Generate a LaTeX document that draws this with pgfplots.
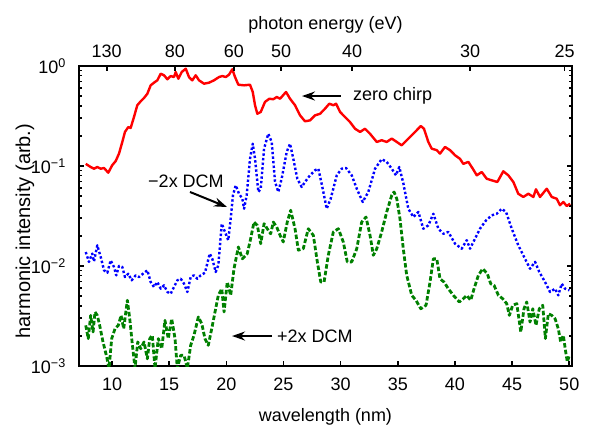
\documentclass[border=0pt]{standalone}
\usepackage{fontspec}
\setmainfont{Liberation Sans}
\usepackage{pgfplots}
\pgfplotsset{compat=1.18}
\usetikzlibrary{arrows.meta}
\definecolor{cred}{RGB}{255,0,0}
\definecolor{cblue}{RGB}{0,0,255}
\definecolor{cgreen}{RGB}{0,128,0}

\pgfplotsset{
  common/.style={
    scale only axis, width=493pt, height=300pt,
    xmin=7.11, xmax=50.24,
    tick align=inside,
    major tick length=5pt, minor tick length=3.5pt,
    every tick/.style={line width=1.6pt, black},
    /pgf/number format/assume math mode=true,
    tick label style={font=\fontsize{18}{21}\selectfont},
    label style={font=\fontsize{18}{21}\selectfont},
  },
}

\begin{document}
\fontsize{18}{21}\selectfont
\begin{tikzpicture}
\begin{axis}[common, name=main,
  ymode=log, ymin=1e-3, ymax=1,
  axis line style={line width=2.6pt},
  xtick={10,15,...,50}, xtick pos=left, xticklabel pos=left,
  ytick={1e-3,1e-2,1e-1,1},
  yticklabels={10\textsuperscript{−3},10\textsuperscript{−2},10\textsuperscript{−1},10\textsuperscript{0}},
  ytick pos=both, yticklabel pos=left,
  xticklabel style={yshift=-6pt},
  yticklabel style={xshift=-7pt},
  xlabel={wavelength (nm)},
  every axis x label/.style={at={(axis description cs:0.5,0)}, anchor=north, yshift=-36pt},
  ylabel={harmonic intensity (arb.)},
  every axis y label/.style={at={(axis description cs:0,0.45)}, xshift=-54pt, rotate=90, anchor=center, font=\fontsize{20}{24}\selectfont},
]
% zero chirp
\addplot[cred, line width=2.4pt, line join=round] table {
7.70 0.105
8.13 0.0977
8.42 0.0940
8.71 0.0977
9.01 0.0940
9.30 0.0955
9.67 0.0857
10.02 0.102
10.32 0.112
10.61 0.133
10.90 0.174
11.13 0.219
11.42 0.245
11.63 0.240
11.92 0.309
12.21 0.405
12.51 0.444
12.80 0.479
13.09 0.528
13.38 0.641
13.67 0.681
13.96 0.719
14.26 0.837
14.55 0.807
14.84 0.736
15.13 0.794
15.42 0.776
15.57 0.871
15.80 0.746
16.10 0.871
16.45 0.940
16.73 0.776
17.02 0.719
17.32 0.807
17.61 0.719
18.05 0.665
18.48 0.681
18.92 0.719
19.36 0.776
19.65 0.794
19.95 0.776
20.23 0.818
20.52 0.927
20.76 0.776
21.05 0.650
21.55 0.641
22.07 0.650
22.31 0.550
22.51 0.405
22.71 0.333
23.01 0.347
23.38 0.437
23.76 0.471
24.11 0.465
24.41 0.490
24.70 0.471
25.22 0.550
25.57 0.471
26.01 0.405
26.45 0.321
26.88 0.280
27.32 0.286
27.76 0.321
28.20 0.333
28.63 0.374
29.01 0.420
29.36 0.405
29.60 0.420
29.95 0.347
30.38 0.309
30.82 0.275
31.26 0.236
31.70 0.219
32.13 0.236
32.57 0.210
33.16 0.174
33.59 0.181
34.03 0.174
34.47 0.188
34.91 0.174
35.34 0.161
35.63 0.174
36.07 0.195
36.51 0.219
37.01 0.251
37.29 0.236
37.67 0.174
37.97 0.149
38.41 0.144
38.69 0.133
39.13 0.155
39.57 0.144
40.01 0.128
40.44 0.118
40.73 0.105
41.17 0.110
41.56 0.0940
41.91 0.0807
42.34 0.0871
42.78 0.0746
43.22 0.0719
43.71 0.0692
44.23 0.0885
44.67 0.0807
45.11 0.0692
45.54 0.0528
45.98 0.0490
46.42 0.0528
46.86 0.0490
47.09 0.0585
47.44 0.0490
48.03 0.0593
48.47 0.0490
48.90 0.0471
49.19 0.0405
49.48 0.0437
49.78 0.0398
50.07 0.0420
};
% -2x DCM
\addplot[cblue, line width=2.4pt, line join=round, dash pattern=on 2.4pt off 2.2pt] table {
7.70 0.0138
7.98 0.0110
8.27 0.0133
8.42 0.0111
8.71 0.0161
9.01 0.0123
9.30 0.00906
9.59 0.00857
9.88 0.0114
10.17 0.00977
10.37 0.00807
10.61 0.0100
10.90 0.00977
11.13 0.00776
11.42 0.00837
11.72 0.00719
12.07 0.00807
12.36 0.00776
12.71 0.00837
13.09 0.00906
13.38 0.00692
13.67 0.00617
13.96 0.00692
14.26 0.00593
14.55 0.00641
14.84 0.00550
15.13 0.00528
15.42 0.00617
15.71 0.00719
16.01 0.00746
16.30 0.00665
16.59 0.00550
16.88 0.00776
17.17 0.00807
17.46 0.00746
17.76 0.00807
18.13 0.00857
18.55 0.0133
18.77 0.0118
19.07 0.00871
19.30 0.0102
19.60 0.0265
19.88 0.0219
20.17 0.0181
20.38 0.0297
20.58 0.0509
20.82 0.0641
21.11 0.0528
21.40 0.0471
21.55 0.0374
21.78 0.0509
22.07 0.118
22.31 0.167
22.51 0.118
22.80 0.0550
23.01 0.0593
23.30 0.149
23.67 0.210
23.97 0.174
24.26 0.0692
24.55 0.0550
24.84 0.0746
25.28 0.138
25.57 0.167
25.86 0.118
26.21 0.0746
26.59 0.0617
26.88 0.0692
27.32 0.0807
27.76 0.0906
28.05 0.0940
28.43 0.0593
28.78 0.0374
29.13 0.0471
29.66 0.0807
30.09 0.0940
30.47 0.0955
30.97 0.0807
31.41 0.0593
31.93 0.0437
32.42 0.0550
33.01 0.0940
33.59 0.117
34.03 0.110
34.47 0.0940
34.84 0.0807
35.13 0.0977
35.48 0.0676
35.92 0.0374
36.36 0.0309
36.80 0.0347
37.23 0.0236
37.67 0.0255
38.11 0.0333
38.55 0.0236
38.98 0.0210
39.42 0.0219
40.01 0.0167
40.59 0.0149
41.03 0.0181
41.32 0.0149
41.76 0.0188
42.19 0.0236
42.72 0.0286
43.22 0.0321
43.66 0.0333
44.09 0.0374
44.47 0.0347
44.97 0.0236
45.54 0.0161
46.13 0.0118
46.57 0.00940
47.01 0.0110
47.38 0.00871
47.88 0.00692
48.32 0.00550
48.76 0.00593
49.04 0.00509
49.34 0.00665
49.63 0.00593
50.01 0.00571
};
% +2x DCM
\addplot[cgreen, line width=2.8pt, line join=round, dash pattern=on 4.5pt off 2.2pt] table {
7.70 0.00255
7.92 0.00188
8.13 0.00321
8.34 0.00219
8.51 0.00347
8.71 0.00321
8.92 0.00255
9.21 0.00174
9.50 0.00128
9.74 0.00095
9.97 0.00188
10.26 0.00236
10.55 0.00255
10.79 0.00321
11.02 0.00236
11.34 0.00454
11.55 0.00297
11.77 0.00167
12.01 0.00095
12.25 0.00174
12.51 0.00149
12.80 0.00174
13.09 0.00118
13.30 0.00188
13.52 0.00203
13.76 0.00095
14.05 0.00188
14.35 0.00149
14.63 0.00286
14.92 0.00188
15.22 0.00297
15.51 0.00188
15.71 0.00095
16.01 0.00128
16.30 0.00128
16.59 0.00095
16.88 0.00161
17.17 0.00203
17.55 0.00309
17.85 0.00265
18.13 0.00188
18.42 0.00161
18.72 0.00236
19.01 0.00347
19.30 0.00509
19.60 0.00593
19.80 0.00347
20.08 0.00692
20.38 0.00509
20.67 0.00940
21.05 0.0155
21.40 0.0118
21.83 0.0133
22.13 0.0188
22.42 0.0275
22.71 0.0255
23.01 0.0167
23.30 0.0265
23.58 0.0236
23.88 0.0210
24.11 0.0275
24.41 0.0245
24.70 0.0203
24.98 0.0174
25.33 0.0275
25.63 0.0361
26.01 0.0236
26.30 0.0144
26.73 0.0149
27.17 0.0236
27.61 0.0203
27.96 0.0110
28.26 0.00692
28.55 0.00692
28.92 0.0128
29.36 0.0219
29.80 0.0236
30.23 0.0174
30.58 0.0110
30.97 0.0110
31.41 0.0149
31.84 0.0275
32.22 0.0309
32.57 0.0203
32.86 0.0128
33.16 0.0149
33.59 0.0219
34.03 0.0347
34.47 0.0509
34.67 0.0550
34.91 0.0471
35.19 0.0297
35.48 0.0149
35.78 0.00807
36.22 0.00509
36.59 0.00454
37.01 0.00374
37.47 0.00405
37.82 0.00692
38.11 0.0118
38.41 0.0118
38.69 0.00746
39.04 0.00692
39.42 0.00593
39.86 0.00509
40.38 0.00437
40.73 0.00471
41.03 0.00509
41.38 0.00454
41.67 0.00593
42.05 0.00807
42.43 0.00940
42.83 0.00837
43.13 0.00665
43.42 0.00641
43.80 0.00509
44.18 0.00471
44.53 0.00420
44.76 0.00321
45.05 0.00405
45.41 0.00420
45.76 0.00219
46.04 0.00374
46.28 0.00437
46.57 0.00275
46.81 0.00374
47.09 0.00255
47.38 0.00374
47.68 0.00405
47.91 0.00188
48.17 0.00333
48.47 0.00321
48.76 0.00297
49.04 0.00236
49.25 0.00174
49.48 0.00203
49.69 0.00138
49.83 0.00110
50.01 0.00128
};
% annotations
\draw[-{Stealth[length=13pt,width=9pt]}, line width=2pt] (axis cs:30.03,0.501) -- (axis cs:26.62,0.501);
\node[anchor=west, inner sep=0pt] at (axis cs:31.08,0.501) {zero chirp};
\draw[-{Stealth[length=13pt,width=9pt]}, line width=2pt] (axis cs:16.82,0.0550) -- (axis cs:20.06,0.0389);
\node[inner sep=0pt] at (axis cs:16.47,0.0700) {−2x DCM};
\draw[-{Stealth[length=13pt,width=9pt]}, line width=2pt] (axis cs:24.00,0.001995) -- (axis cs:20.50,0.001995);
\node[anchor=west, inner sep=0pt] at (axis cs:24.43,0.001995) {+2x DCM};
\end{axis}
\begin{axis}[common,
  ymin=0, ymax=1, ytick=\empty,
  axis line style={draw=none},
  xtick={9.537,15.498,20.664,24.797,30.996,41.328,49.594},
  xticklabels={130,80,60,50,40,30,25},
  xtick pos=right, xticklabel pos=right,
  xticklabel style={yshift=2pt},
  xlabel={photon energy (eV)},
  every axis x label/.style={at={(axis description cs:0.5,1)}, anchor=base, yshift=36pt},
]
\end{axis}
\path ([shift={(-79pt,-55pt)}]main.south west) rectangle ([shift={(17pt,66pt)}]main.north east);
\end{tikzpicture}
\end{document}
